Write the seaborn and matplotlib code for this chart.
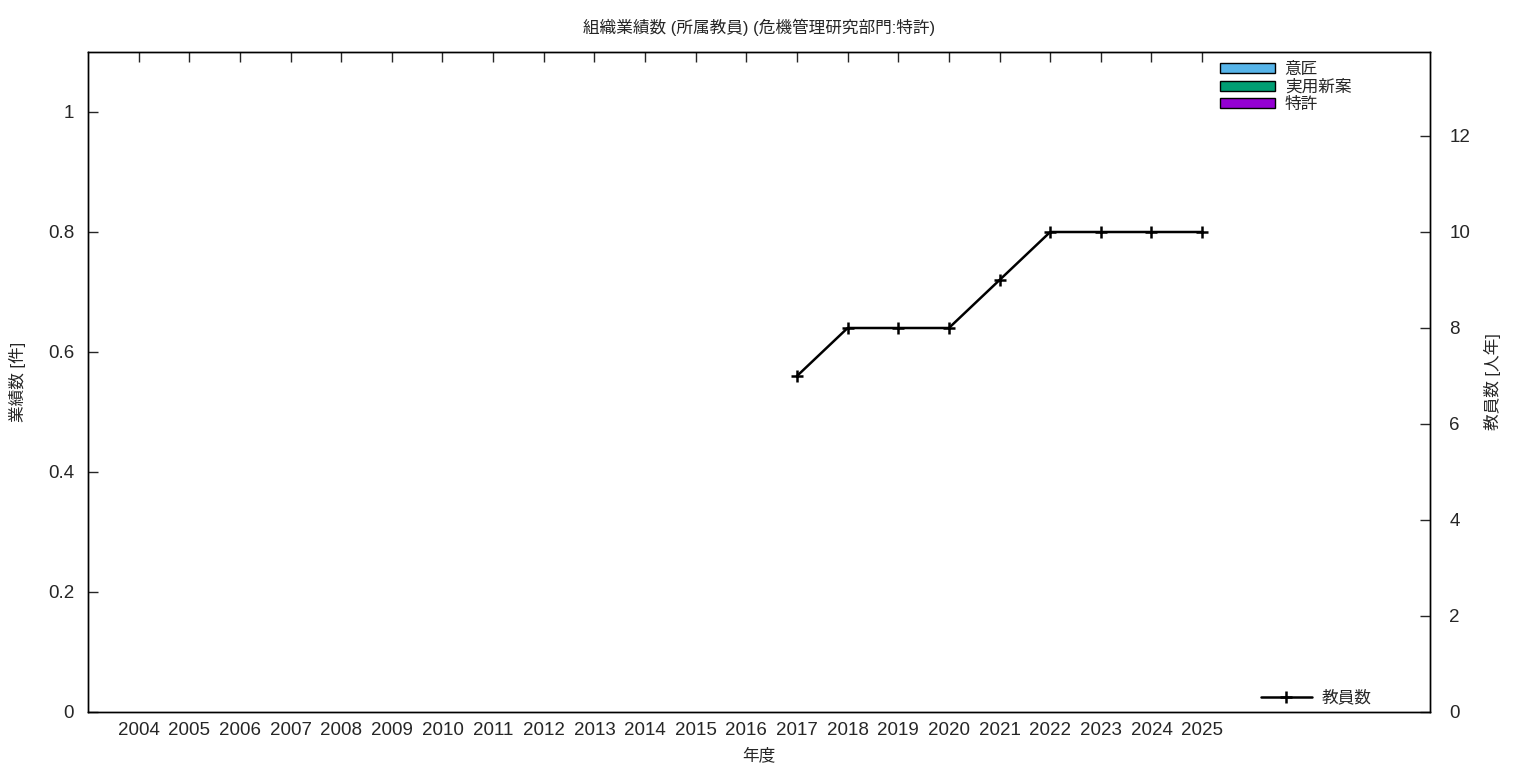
import matplotlib
matplotlib.use("Agg")
import matplotlib.pyplot as plt
import matplotlib.patches as mpatches
import numpy as np
import pandas as pd
import seaborn as sns

years = list(range(2004, 2026))
design = [0] * len(years)      # 意匠
utility = [0] * len(years)     # 実用新案
patent = [0] * len(years)      # 特許
staff = [np.nan] * 13 + [7, 8, 8, 8, 9, 10, 10, 10, 10]  # 教員数 [人年]

sns.set_style("white")
plt.rcParams['font.family'] = ['Liberation Sans', 'Noto Sans CJK JP']

df = pd.DataFrame({"year": [str(y) for y in years], "pos": range(len(years)),
                   "design": design, "utility": utility, "patent": patent, "staff": staff})

fig = plt.figure(figsize=(15.36, 7.68), dpi=100)
ax = fig.add_axes([88 / 1536, 1 - 712 / 768, (1430 - 88) / 1536, 660 / 768])

colors = {"patent": "#9400d3", "utility": "#009e73", "design": "#56b4e9"}
bottom = np.zeros(len(years))
for key in ["patent", "utility", "design"]:
    sns.barplot(data=df, x="year", y=key, order=df["year"], color=colors[key],
                bottom=bottom, linewidth=0, width=0.5, ax=ax)
    bottom = bottom + df[key].values

ax.set_xlim(-1, 25.5)
ax.set_ylim(0, 1.1)
ax.set_yticks([0, 0.2, 0.4, 0.6, 0.8, 1.0])
ax.set_yticklabels(["0", "0.2", "0.4", "0.6", "0.8", "1"])
ax.set_xlabel("年度", fontsize=12, labelpad=6)
ax.set_ylabel("業績数 [件]", fontsize=12, labelpad=16)
ax.tick_params(axis="both", direction="in", length=7, width=1, labelsize=13.5, top=True)
ax.tick_params(axis="x", pad=7)
ax.tick_params(axis="y", pad=10)
ax.set_title("組織業績数 (所属教員) (危機管理研究部門:特許)", fontsize=12, pad=14)

ax2 = ax.twinx()
sns.lineplot(data=df, x="pos", y="staff", color="black", linewidth=1.8,
             marker="+", markersize=9, markeredgewidth=1.8, markeredgecolor="black",
             ax=ax2, label="教員数")
ax2.set_xlim(-1, 25.5)
ax2.set_ylim(0, 13.75)
ax2.set_yticks(range(0, 13, 2))
ax2.set_ylabel("教員数 [人年]", fontsize=12, labelpad=10)
ax2.set_xlabel("")
ax2.tick_params(axis="y", direction="in", length=7, width=1, labelsize=13.5, pad=14)

for a in (ax, ax2):
    for s in a.spines.values():
        s.set_color("black")
        s.set_linewidth(1)

bar_handles = [mpatches.Patch(facecolor=colors[k], edgecolor="black", label=l)
               for k, l in [("design", "意匠"), ("utility", "実用新案"), ("patent", "特許")]]
leg1 = ax2.legend(handles=bar_handles, loc="upper right", bbox_to_anchor=(0.95, 1.002),
                  frameon=False, fontsize=12, handlelength=3.3, handleheight=0.55,
                  labelspacing=0.12, handletextpad=0.6, borderaxespad=0.3)
ax2.add_artist(leg1)
ax2.legend(loc="lower right", bbox_to_anchor=(0.968, -0.013), frameon=False, fontsize=12,
           handlelength=3.1, handletextpad=0.6)

fig.savefig("out.png", dpi=100)
